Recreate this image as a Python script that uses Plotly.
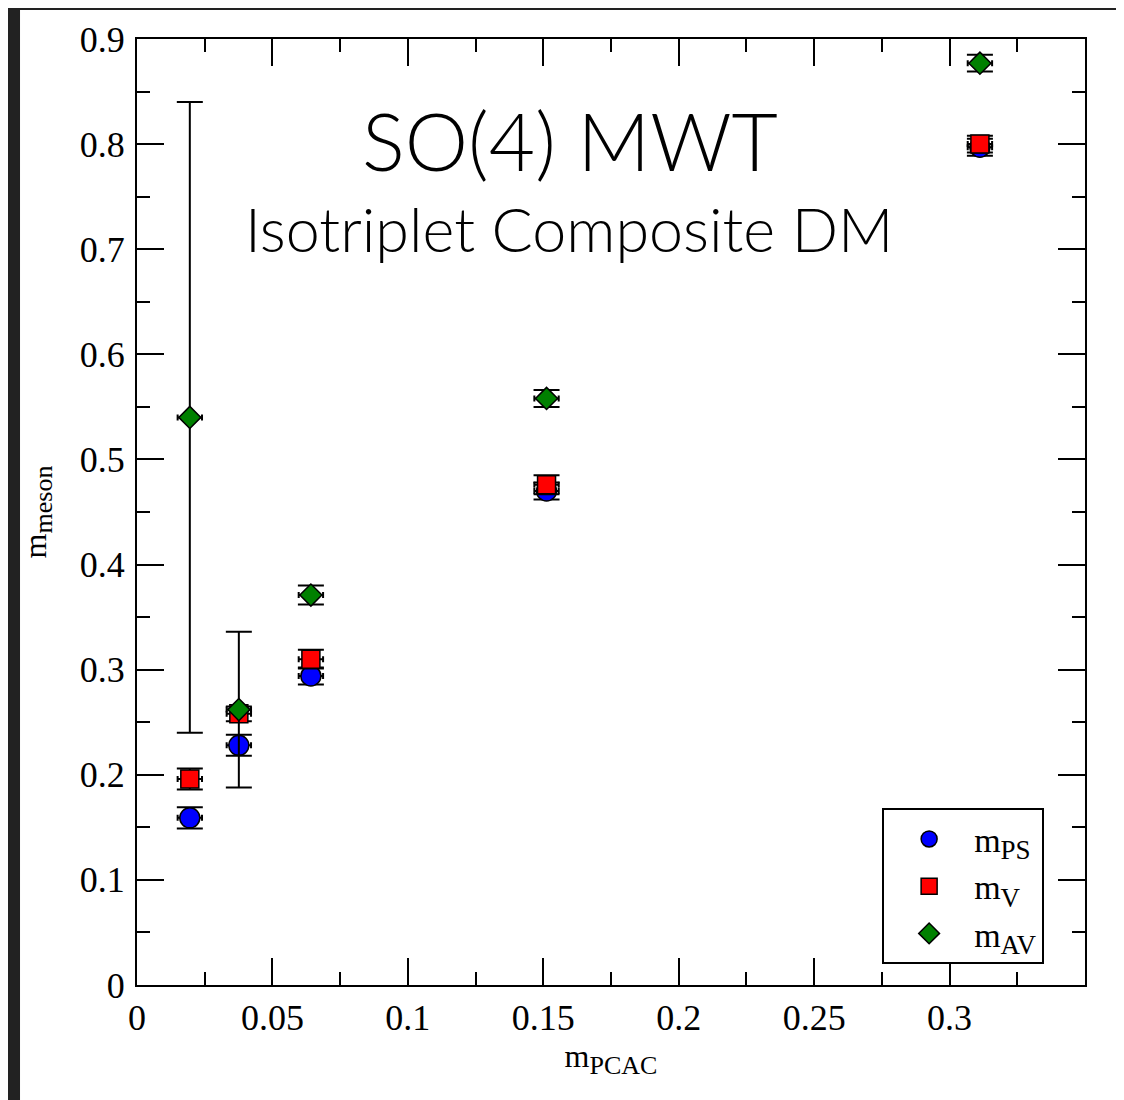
import plotly.graph_objects as go

# ---- data ----
m_pcac = [0.0195, 0.0376, 0.0642, 0.1512, 0.3112]
m_pcac_err = [0.0045, 0.0045, 0.0045, 0.0045, 0.0045]

m_ps = [0.159, 0.228, 0.294, 0.470, 0.797]
m_ps_err = [0.010, 0.010, 0.008, 0.008, 0.008]

m_v = [0.196, 0.258, 0.310, 0.476, 0.800]
m_v_err = [0.010, 0.007, 0.009, 0.009, 0.008]

m_av = [0.540, 0.262, 0.371, 0.558, 0.877]
m_av_err = [0.300, 0.074, 0.009, 0.008, 0.008]

x_tickvals = [0, 0.05, 0.1, 0.15, 0.2, 0.25, 0.3]
x_ticktext = ["0", "0.05", "0.1", "0.15", "0.2", "0.25", "0.3"]
y_tickvals = [0, 0.1, 0.2, 0.3, 0.4, 0.5, 0.6, 0.7, 0.8, 0.9]
y_ticktext = ["0", "0.1", "0.2", "0.3", "0.4", "0.5", "0.6", "0.7", "0.8", "0.9"]

SERIF = "Liberation Serif, Times New Roman, serif"
SANS = "Lato, Liberation Sans, Helvetica, Arial, sans-serif"

def sub(main, s, size):
    return f"{main}<sub><span style='font-size:{size}px'>{s}</span></sub>"

fig = go.Figure()

def add_series(y, yerr, name, symbol, color, size):
    fig.add_trace(go.Scatter(
        x=m_pcac, y=y, mode="markers", name=name,
        marker=dict(symbol=symbol, size=size, color=color,
                    line=dict(color="black", width=1.5)),
        error_y=dict(type="data", array=yerr, visible=True,
                     color="black", thickness=2, width=13),
        error_x=dict(type="data", array=m_pcac_err, visible=True,
                     color="black", thickness=2, width=3),
    ))

add_series(m_ps, m_ps_err, sub("m", "PS", 27), "circle", "#0000ff", 20)
add_series(m_v, m_v_err, sub("m", "V", 27), "square", "#ff0000", 18)
add_series(m_av, m_av_err, sub("m", "AV", 27), "diamond", "#008000", 17)

axis_common = dict(
    showline=True, linecolor="black", linewidth=2, mirror="allticks",
    ticks="inside", ticklen=27, tickwidth=2, tickcolor="black",
    showgrid=False, zeroline=False,
    tickfont=dict(family=SERIF, size=36, color="black"),
)

fig.update_xaxes(
    range=[0, 0.35], tickmode="array", tickvals=x_tickvals, ticktext=x_ticktext,
    minor=dict(ticks="inside", ticklen=13, tickwidth=2, tickcolor="black", dtick=0.025, tick0=0, showgrid=False),
    title=dict(text=sub("m", "PCAC", 26), font=dict(family=SERIF, size=32, color="black"), standoff=2),
    ticklabelstandoff=0,
    **axis_common,
)
fig.update_yaxes(
    range=[0, 0.9], tickmode="array", tickvals=y_tickvals, ticktext=y_ticktext,
    minor=dict(ticks="inside", ticklen=13, tickwidth=2, tickcolor="black", dtick=0.05, tick0=0, showgrid=False),
    title=dict(text=sub("m", "meson", 26), font=dict(family=SERIF, size=32, color="black"), standoff=24),
    ticklabelstandoff=3,
    **axis_common,
)

# title texts inside plot
fig.add_annotation(text="SO(4) MWT", x=0.1597, y=0.804, xref="x", yref="y",
                   showarrow=False, font=dict(family=SANS, size=80, color="black", weight=300))
fig.add_annotation(text="Isotriplet Composite DM", x=0.1597, y=0.72, xref="x", yref="y",
                   showarrow=False, font=dict(family=SANS, size=61, color="black", weight=300))

# slide background panel
fig.add_shape(type="rect", xref="paper", yref="paper",
              x0=-0.1234, x1=1.0338, y0=-0.14, y1=1.0306,
              fillcolor="white", line=dict(width=0), layer="below")

fig.update_layout(
    width=1116, height=1092,
    margin=dict(l=129, r=39, t=29, b=115),
    paper_bgcolor="#222222", plot_bgcolor="white",
    showlegend=True,
    legend=dict(x=0.786, y=0.1867, xanchor="left", yanchor="top",
                bgcolor="white", bordercolor="black", borderwidth=2,
                font=dict(family=SERIF, size=34, color="black"),
                itemwidth=80, itemsizing="trace"),
)

fig.write_html("out.html")
